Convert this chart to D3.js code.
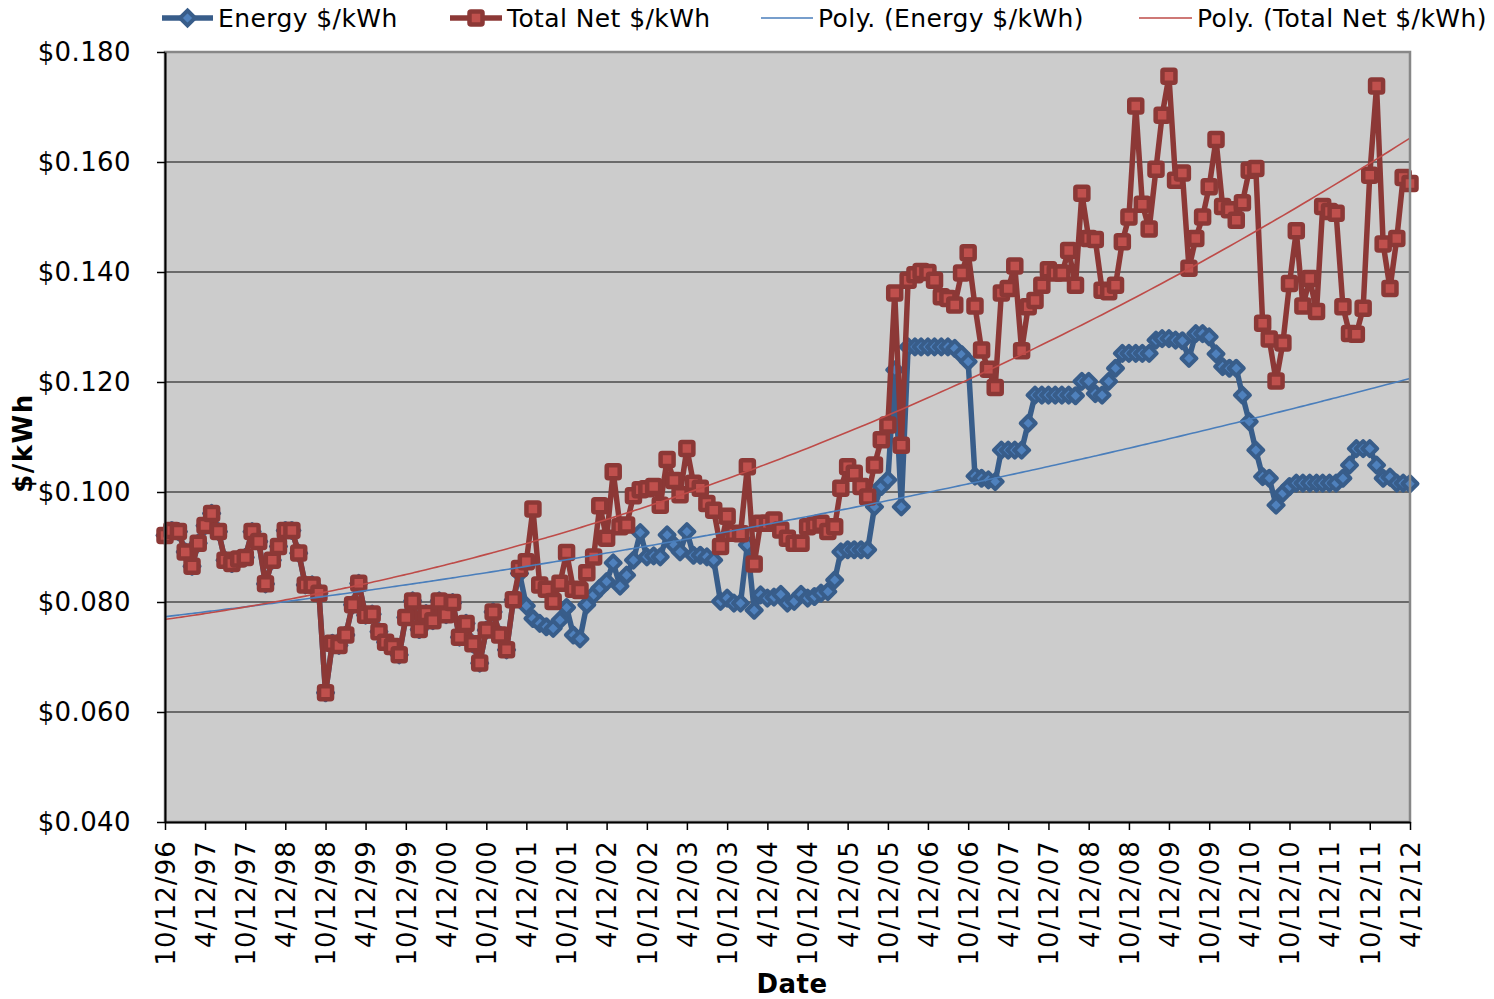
<!DOCTYPE html>
<html>
<head>
<meta charset="utf-8">
<script src="https://cdn.jsdelivr.net/npm/d3@7"></script>
<style>
  body { margin: 0; background: #fff; }
  svg text { font-family: "DejaVu Sans", Verdana, sans-serif; fill: #000; }
</style>
</head>
<body>
<svg id="chart"></svg>
<script>
// First reading; one reading per month after that
const startDate = new Date(1996, 9, 12);

// Energy $/kWh, monthly
const energy = [
  0.0921, 0.0930, 0.0928, 0.0891, 0.0865, 0.0907, 0.0939, 0.0961, 0.0928, 0.0876,
  0.0870, 0.0878, 0.0881, 0.0928, 0.0910, 0.0833, 0.0876, 0.0901, 0.0930, 0.0930,
  0.0889, 0.0831, 0.0831, 0.0816, 0.0635, 0.0725, 0.0721, 0.0740, 0.0795, 0.0834,
  0.0776, 0.0778, 0.0746, 0.0727, 0.0719, 0.0704, 0.0772, 0.0802, 0.0750, 0.0779,
  0.0766, 0.0802, 0.0777, 0.0799, 0.0736, 0.0761, 0.0724, 0.0689, 0.0749, 0.0782,
  0.0740, 0.0713, 0.0804, 0.0852, 0.0793, 0.0770, 0.0761, 0.0755, 0.0752, 0.0767,
  0.0790, 0.0740, 0.0733, 0.0795, 0.0813, 0.0825, 0.0837, 0.0871, 0.0829, 0.0849,
  0.0876, 0.0926, 0.0882, 0.0884, 0.0882, 0.0922, 0.0904, 0.0891, 0.0928, 0.0885,
  0.0885, 0.0882, 0.0876, 0.0801, 0.0807, 0.0798, 0.0798, 0.0904, 0.0785, 0.0813,
  0.0807, 0.0809, 0.0814, 0.0798, 0.0801, 0.0814, 0.0807, 0.0810, 0.0816, 0.0819,
  0.0840, 0.0891, 0.0895, 0.0895, 0.0895, 0.0895, 0.0973, 0.1010, 0.1022, 0.1222,
  0.0973, 0.1264, 0.1264, 0.1264, 0.1264, 0.1264, 0.1264, 0.1264, 0.1261, 0.1250,
  0.1237, 0.1029, 0.1025, 0.1022, 0.1019, 0.1076, 0.1076, 0.1076, 0.1076, 0.1125,
  0.1176, 0.1176, 0.1176, 0.1176, 0.1176, 0.1176, 0.1175, 0.1201, 0.1201, 0.1179,
  0.1176, 0.1201, 0.1225, 0.1252, 0.1252, 0.1252, 0.1252, 0.1252, 0.1276, 0.1279,
  0.1279, 0.1276, 0.1275, 0.1243, 0.1288, 0.1288, 0.1282, 0.1251, 0.1228, 0.1225,
  0.1225, 0.1176, 0.1128, 0.1076, 0.1028, 0.1025, 0.0976, 0.0998, 0.1010, 0.1016,
  0.1016, 0.1016, 0.1016, 0.1016, 0.1016, 0.1016, 0.1025, 0.1049, 0.1079, 0.1079,
  0.1079, 0.1049, 0.1025, 0.1027, 0.1016, 0.1016, 0.1015
];

// Total Net $/kWh, monthly
const totalNet = [
  0.0921, 0.0930, 0.0928, 0.0891, 0.0865, 0.0907, 0.0939, 0.0961, 0.0928, 0.0876,
  0.0870, 0.0878, 0.0881, 0.0928, 0.0910, 0.0833, 0.0876, 0.0901, 0.0930, 0.0930,
  0.0889, 0.0831, 0.0831, 0.0816, 0.0635, 0.0725, 0.0721, 0.0740, 0.0795, 0.0834,
  0.0776, 0.0778, 0.0746, 0.0727, 0.0719, 0.0704, 0.0772, 0.0802, 0.0750, 0.0779,
  0.0766, 0.0802, 0.0777, 0.0799, 0.0736, 0.0761, 0.0724, 0.0689, 0.0749, 0.0782,
  0.0740, 0.0713, 0.0804, 0.0861, 0.0873, 0.0969, 0.0831, 0.0823, 0.0801, 0.0834,
  0.0890, 0.0823, 0.0821, 0.0853, 0.0882, 0.0975, 0.0916, 0.1037, 0.0937, 0.0940,
  0.0993, 0.1004, 0.1006, 0.1010, 0.0976, 0.1059, 0.1021, 0.0995, 0.1079, 0.1016,
  0.1007, 0.0979, 0.0967, 0.0901, 0.0956, 0.0925, 0.0924, 0.1046, 0.0869, 0.0943,
  0.0943, 0.0949, 0.0931, 0.0916, 0.0907, 0.0907, 0.0937, 0.0940, 0.0943, 0.0928,
  0.0937, 0.1007, 0.1046, 0.1034, 0.1010, 0.0991, 0.1049, 0.1095, 0.1122, 0.1362,
  0.1085, 0.1385, 0.1395, 0.1401, 0.1399, 0.1385, 0.1355, 0.1352, 0.1340, 0.1398,
  0.1435, 0.1338, 0.1258, 0.1223, 0.1190, 0.1362, 0.1370, 0.1411, 0.1257, 0.1337,
  0.1348, 0.1376, 0.1404, 0.1398, 0.1398, 0.1439, 0.1376, 0.1543, 0.1461, 0.1459,
  0.1367, 0.1364, 0.1376, 0.1455, 0.1500, 0.1702, 0.1523, 0.1478, 0.1587, 0.1685,
  0.1756, 0.1567, 0.1580, 0.1407, 0.1461, 0.1500, 0.1555, 0.1641, 0.1519, 0.1513,
  0.1494, 0.1526, 0.1585, 0.1588, 0.1307, 0.1278, 0.1202, 0.1271, 0.1379, 0.1475,
  0.1338, 0.1388, 0.1328, 0.1519, 0.1510, 0.1507, 0.1337, 0.1288, 0.1287, 0.1334,
  0.1576, 0.1738, 0.1451, 0.1370, 0.1461, 0.1572, 0.1561
];

// Axis tick labels
const tickLabels = [
  "10/12/96", "4/12/97", "10/12/97", "4/12/98", "10/12/98", "4/12/99", "10/12/99",
  "4/12/00", "10/12/00", "4/12/01", "10/12/01", "4/12/02", "10/12/02", "4/12/03",
  "10/12/03", "4/12/04", "10/12/04", "4/12/05", "10/12/05", "4/12/06", "10/12/06",
  "4/12/07", "10/12/07", "4/12/08", "10/12/08", "4/12/09", "10/12/09", "4/12/10",
  "10/12/10", "4/12/11", "10/12/11", "4/12/12"
];
const yTicks = [0.04, 0.06, 0.08, 0.10, 0.12, 0.14, 0.16, 0.18];
const seriesNames = ["Energy $/kWh", "Total Net $/kWh", "Poly. (Energy $/kWh)", "Poly. (Total Net $/kWh)"];

// Colours
const blueLine = "#385d8a", blueFill = "#4f81bd", blueTrend = "#4a7ebb";
const redLine = "#8c3836", redFill = "#c0504d", redTrend = "#be4b48";

// Dimensions
const W = 1494, H = 999;
const margin = { top: 52, right: 84, bottom: 177, left: 165 };
const plotW = W - margin.left - margin.right;
const plotH = H - margin.top - margin.bottom;

const dates = energy.map((d, i) => d3.timeMonth.offset(startDate, i));
const parseTick = d3.timeParse("%m/%d/%y");
const tickDates = tickLabels.map(parseTick);

const svg = d3.select("#chart").attr("width", W).attr("height", H);
const g = svg.append("g").attr("transform", `translate(${margin.left},${margin.top})`);

// Scales
const x = d3.scaleTime().domain([dates[0], dates[dates.length - 1]]).range([0, plotW]);
const y = d3.scaleLinear().domain([0.04, 0.18]).range([plotH, 0]);

// Plot background
g.append("rect").attr("width", plotW).attr("height", plotH).attr("fill", "#cccccc");

// Gridlines
g.selectAll(".grid")
  .data(yTicks.slice(1, -1))
  .enter()
  .append("line")
  .attr("x1", 0).attr("x2", plotW)
  .attr("y1", (d) => y(d)).attr("y2", (d) => y(d))
  .attr("stroke", "#4a4a4a").attr("stroke-width", 1.3);

// Quadratic least squares trend, like an Excel "Poly." trendline
function polyFit(xs, ys) {
  const mx = d3.mean(xs);
  const u = xs.map((v) => v - mx);
  const s = (k) => d3.sum(u, (v) => Math.pow(v, k));
  const t = (k) => d3.sum(u, (v, i) => Math.pow(v, k) * ys[i]);
  const A = [[s(0), s(1), s(2), t(0)], [s(1), s(2), s(3), t(1)], [s(2), s(3), s(4), t(2)]];
  for (let c = 0; c < 3; c++) {
    for (let r = c + 1; r < 3; r++) {
      const f = A[r][c] / A[c][c];
      for (let k = c; k < 4; k++) A[r][k] -= f * A[c][k];
    }
  }
  const b = [0, 0, 0];
  for (let r = 2; r >= 0; r--) {
    let v = A[r][3];
    for (let k = r + 1; k < 3; k++) v -= A[r][k] * b[k];
    b[r] = v / A[r][r];
  }
  return (v) => b[0] + b[1] * (v - mx) + b[2] * (v - mx) * (v - mx);
}
const days = dates.map((d) => (d - startDate) / 864e5);
const energyTrend = polyFit(days, energy);
const totalTrend = polyFit(days, totalNet);

const line = d3.line().x((d) => x(d[0])).y((d) => y(d[1]));
const diamond = (r) => `M0,${-r}L${r},0L0,${r}L${-r},0Z`;

// Energy series
g.append("path")
  .datum(dates.map((d, i) => [d, energy[i]]))
  .attr("d", line)
  .attr("fill", "none").attr("stroke", blueLine).attr("stroke-width", 5.5)
  .attr("stroke-linejoin", "round");
g.selectAll(".diamond")
  .data(energy)
  .enter()
  .append("path")
  .attr("transform", (d, i) => `translate(${x(dates[i])},${y(d)})`)
  .attr("d", diamond(7.5))
  .attr("fill", blueFill).attr("stroke", blueLine).attr("stroke-width", 4)
  .attr("stroke-linejoin", "round");

// Total Net series
g.append("path")
  .datum(dates.map((d, i) => [d, totalNet[i]]))
  .attr("d", line)
  .attr("fill", "none").attr("stroke", redLine).attr("stroke-width", 5.5)
  .attr("stroke-linejoin", "round");
g.selectAll(".square")
  .data(totalNet)
  .enter()
  .append("rect")
  .attr("x", (d, i) => x(dates[i]) - 6.5)
  .attr("y", (d) => y(d) - 6.5)
  .attr("width", 13).attr("height", 13)
  .attr("rx", 1.5)
  .attr("fill", redFill).attr("stroke", redLine).attr("stroke-width", 4.5);

// Trendlines
g.append("path")
  .datum(dates.map((d, i) => [d, energyTrend(days[i])]))
  .attr("d", line.curve(d3.curveMonotoneX))
  .attr("fill", "none").attr("stroke", blueTrend).attr("stroke-width", 1.6);
g.append("path")
  .datum(dates.map((d, i) => [d, totalTrend(days[i])]))
  .attr("d", line.curve(d3.curveMonotoneX))
  .attr("fill", "none").attr("stroke", redTrend).attr("stroke-width", 1.6);

// Plot border
g.append("rect").attr("width", plotW).attr("height", plotH)
  .attr("fill", "none").attr("stroke", "#878787").attr("stroke-width", 2.5);

// X axis
const xAxis = g.append("g")
  .attr("transform", `translate(0,${plotH})`)
  .call(d3.axisBottom(x).tickValues(tickDates).tickFormat((d, i) => tickLabels[i]).tickSize(8).tickSizeOuter(0));
xAxis.select(".domain").attr("stroke", "#000").attr("stroke-width", 2);
xAxis.selectAll(".tick line").attr("stroke", "#000").attr("stroke-width", 1.5);
xAxis.selectAll(".tick text")
  .attr("transform", "rotate(-90)")
  .attr("text-anchor", "end")
  .attr("x", -18).attr("y", 0).attr("dy", "0.36em")
  .style("font-size", "26px")
  .style("letter-spacing", "1.1px");

// Y axis
const yAxis = g.append("g")
  .call(d3.axisLeft(y).tickValues(yTicks).tickFormat(d3.format("$.3f")).tickSize(8).tickSizeOuter(0).tickPadding(26));
yAxis.select(".domain").attr("stroke", "#000").attr("stroke-width", 2);
yAxis.selectAll(".tick line").attr("stroke", "#000").attr("stroke-width", 1.5);
yAxis.selectAll(".tick text").style("font-size", "26px").style("letter-spacing", "0.4px");

// Axis titles
svg.append("text")
  .attr("x", 792).attr("y", 993)
  .attr("text-anchor", "middle")
  .style("font-size", "26px").style("font-weight", "bold")
  .style("letter-spacing", "0.5px")
  .text("Date");
svg.append("text")
  .attr("transform", "translate(32,443) rotate(-90)")
  .attr("text-anchor", "middle")
  .style("font-size", "26px").style("font-weight", "bold")
  .style("letter-spacing", "1.5px")
  .text("$/kWh");

// Legend
const legendItems = [
  { x: 162, w: 51, color: blueLine, width: 5.5, marker: "diamond" },
  { x: 450, w: 52, color: redLine, width: 5.5, marker: "square" },
  { x: 761, w: 52, color: blueTrend, width: 1.6, marker: null },
  { x: 1139, w: 53, color: redTrend, width: 1.6, marker: null }
];
const legend = svg.append("g");
legendItems.forEach((it, i) => {
  const lg = legend.append("g").attr("transform", `translate(${it.x},18)`);
  lg.append("line").attr("x1", 0).attr("x2", it.w)
    .attr("stroke", it.color).attr("stroke-width", it.width);
  if (it.marker === "diamond") {
    lg.append("path").attr("transform", `translate(${it.w / 2},0)`)
      .attr("d", diamond(7.5)).attr("fill", blueFill)
      .attr("stroke", blueLine).attr("stroke-width", 4);
  } else if (it.marker === "square") {
    lg.append("rect").attr("x", it.w / 2 - 6.5).attr("y", -6.5)
      .attr("width", 13).attr("height", 13).attr("rx", 1.5)
      .attr("fill", redFill).attr("stroke", redLine).attr("stroke-width", 4.5);
  }
  lg.append("text").attr("x", it.w + 5).attr("y", 0).attr("dy", "0.35em")
    .style("font-size", "25px").style("letter-spacing", "0.4px")
    .text(seriesNames[i]);
});
</script>
</body>
</html>
